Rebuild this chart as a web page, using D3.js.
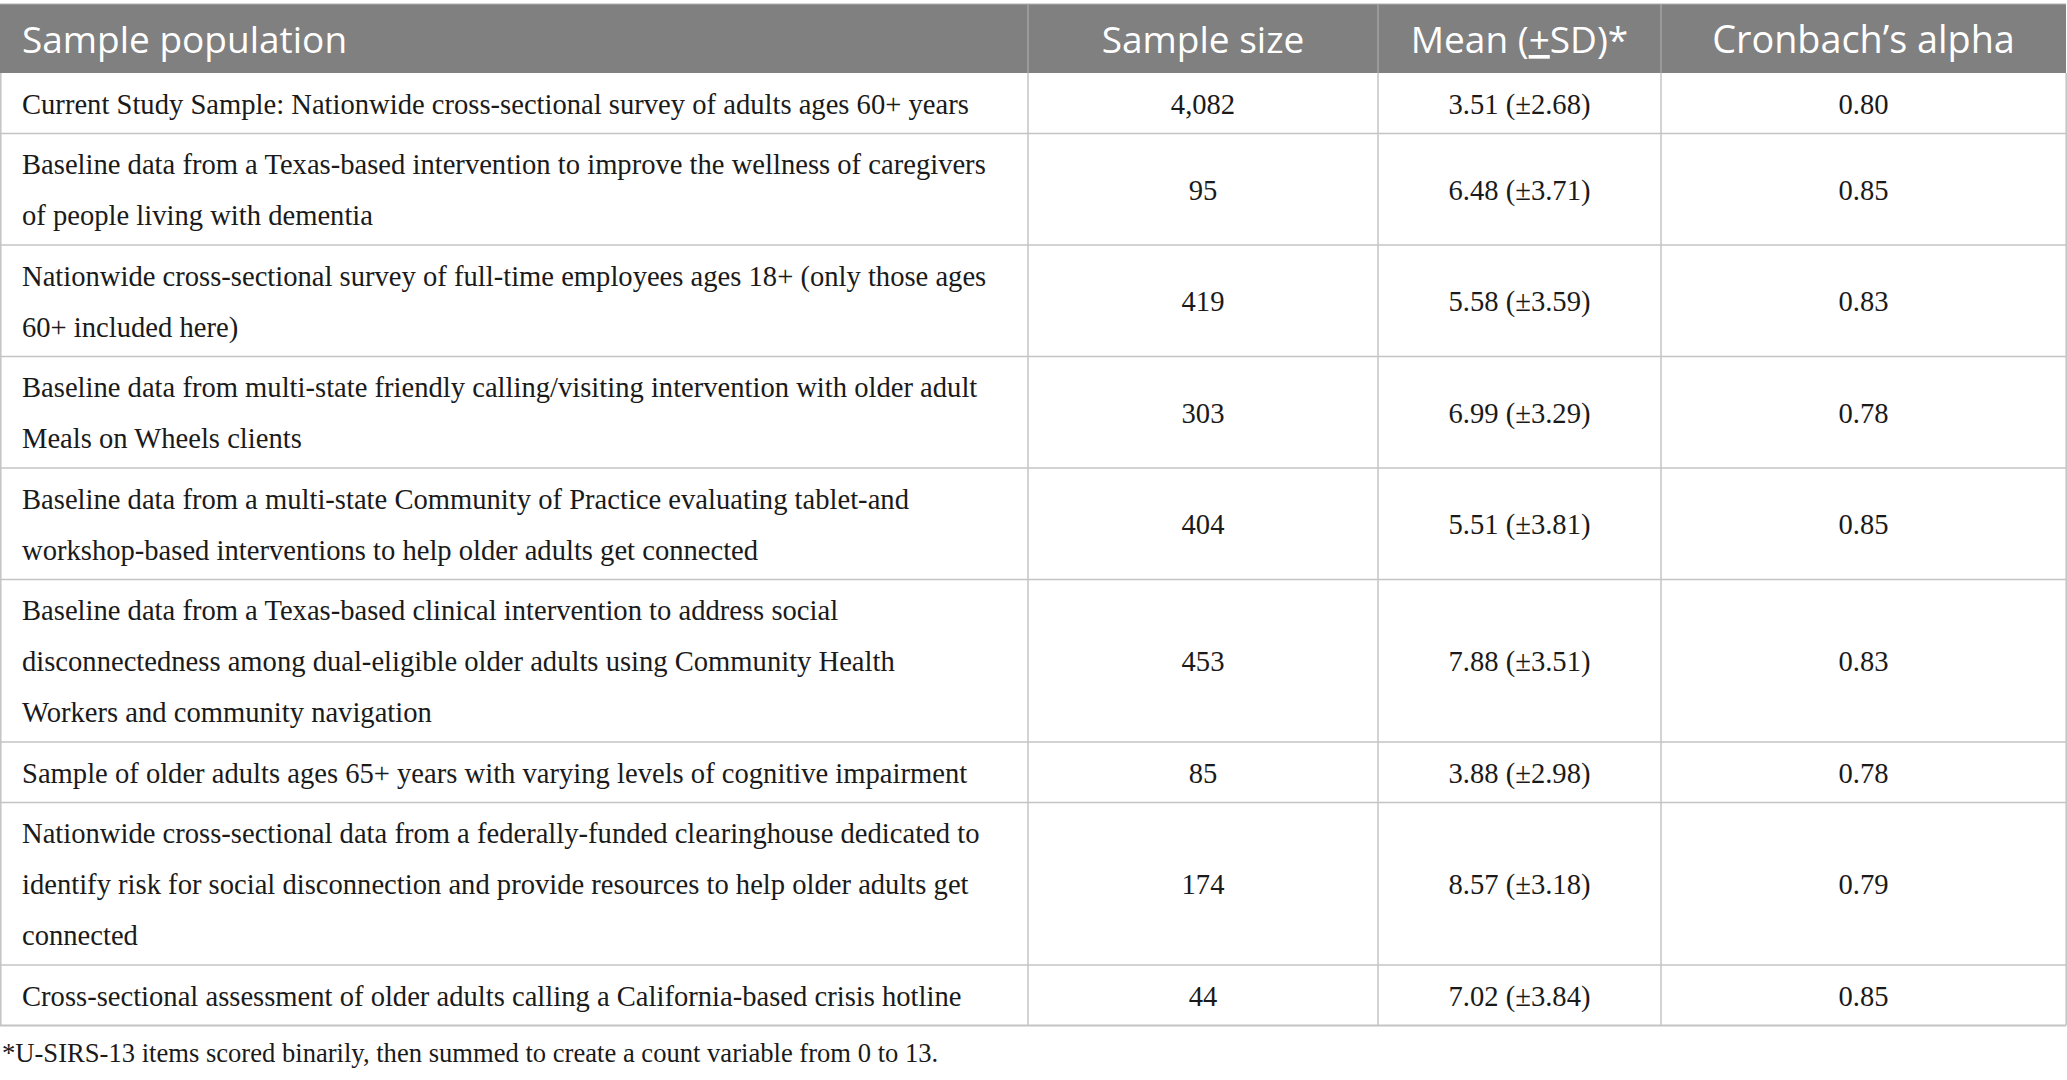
<!DOCTYPE html>
<html>
<head>
<meta charset="utf-8">
<script src="https://cdn.jsdelivr.net/npm/d3@7/dist/d3.min.js"></script>
<style>
  html, body { margin: 0; padding: 0; background: #fff; }
  svg { display: block; }
</style>
</head>
<body>
<div id="chart"></div>
<script>
// ---------------- DATA ----------------
const headers = ["Sample population", "Sample size", "Mean (±SD)*", "Cronbach\u2019s alpha"];

const populations = [
  ["Current Study Sample: Nationwide cross-sectional survey of adults ages 60+ years"],
  ["Baseline data from a Texas-based intervention to improve the wellness of caregivers",
   "of people living with dementia"],
  ["Nationwide cross-sectional survey of full-time employees ages 18+ (only those ages",
   "60+ included here)"],
  ["Baseline data from multi-state friendly calling/visiting intervention with older adult",
   "Meals on Wheels clients"],
  ["Baseline data from a multi-state Community of Practice evaluating tablet-and",
   "workshop-based interventions to help older adults get connected"],
  ["Baseline data from a Texas-based clinical intervention to address social",
   "disconnectedness among dual-eligible older adults using Community Health",
   "Workers and community navigation"],
  ["Sample of older adults ages 65+ years with varying levels of cognitive impairment"],
  ["Nationwide cross-sectional data from a federally-funded clearinghouse dedicated to",
   "identify risk for social disconnection and provide resources to help older adults get",
   "connected"],
  ["Cross-sectional assessment of older adults calling a California-based crisis hotline"]
];

const sampleSizes = ["4,082", "95", "419", "303", "404", "453", "85", "174", "44"];
const means       = [3.51, 6.48, 5.58, 6.99, 5.51, 7.88, 3.88, 8.57, 7.02];
const sds         = [2.68, 3.71, 3.59, 3.29, 3.81, 3.51, 2.98, 3.18, 3.84];
const alphas      = [0.80, 0.85, 0.83, 0.78, 0.85, 0.83, 0.78, 0.79, 0.85];

const footnote = "*U-SIRS-13 items scored binarily, then summed to create a count variable from 0 to 13.";

// ---------------- LAYOUT ----------------
const W = 2067, H = 1080;
const colEdges = [0, 1028, 1378, 1661, 2066];
const headTop = 4, headBottom = 73;
const lineH = 51, pad = 9.5, baseShift = 10.4;
const bodyFont = "'Liberation Serif', 'Times New Roman', serif";
const headFont = "'Open Sans', 'Noto Sans', sans-serif";
const gridColor = "#c4c4c4";

const rows = populations.map((lines, i) => ({
  lines,
  n: sampleSizes[i],
  mean: d3.format(".2f")(means[i]) + " (\u00B1" + d3.format(".2f")(sds[i]) + ")",
  alpha: d3.format(".2f")(alphas[i])
}));

// cumulative row positions
let acc = headBottom;
rows.forEach(r => { r.top = acc; r.h = pad + lineH * r.lines.length; acc += r.h; r.bottom = acc; });
const tableBottom = acc;

const x = d3.scaleOrdinal().domain([0,1,2,3,4]).range(colEdges);
const colCenter = c => (x(c) + x(c + 1)) / 2;

const svg = d3.select("#chart").append("svg")
  .attr("width", W).attr("height", H)
  .attr("viewBox", `0 0 ${W} ${H}`);

// header background
svg.append("rect")
  .attr("x", x(0)).attr("y", headTop)
  .attr("width", x(4) - x(0)).attr("height", headBottom - headTop)
  .attr("fill", "#808080");
svg.append("line")
  .attr("x1", x(0)).attr("x2", x(4)).attr("y1", headTop).attr("y2", headTop)
  .attr("stroke", "#b0b0b0").attr("stroke-width", 1.2);

// header separators
svg.selectAll("line.hsep").data([1,2,3]).join("line")
  .attr("class", "hsep")
  .attr("x1", d => x(d)).attr("x2", d => x(d))
  .attr("y1", headTop).attr("y2", headBottom)
  .attr("stroke", "#a3a3a3").attr("stroke-width", 1.5);

// header texts
const headG = svg.append("g")
  .attr("font-family", headFont).attr("font-size", 37).attr("fill", "#fff");
headG.append("text").attr("x", 22).attr("y", 53).text(headers[0]);
headG.append("text").attr("x", colCenter(1)).attr("y", 53).attr("text-anchor", "middle").text(headers[1]);
const mt = headG.append("text").attr("x", colCenter(2)).attr("y", 53).attr("text-anchor", "middle");
mt.append("tspan").text("Mean (");
mt.append("tspan").attr("text-decoration", "underline").text("+");
mt.append("tspan").text("SD)*");
headG.append("text").attr("x", colCenter(3)).attr("y", 53).attr("text-anchor", "middle")
  .attr("font-size", 37.8).text(headers[3]);

// body grid: horizontal lines
svg.selectAll("line.rowline").data(rows).join("line")
  .attr("class", "rowline")
  .attr("x1", x(0)).attr("x2", x(4))
  .attr("y1", d => d.bottom).attr("y2", d => d.bottom)
  .attr("stroke", gridColor).attr("stroke-width", (d, i) => i === rows.length - 1 ? 2.2 : 1.6);

// vertical lines in body
svg.selectAll("line.vline").data([0,1,2,3,4]).join("line")
  .attr("class", "vline")
  .attr("x1", d => d === 0 ? 0.8 : (d === 4 ? 2066.2 : x(d)))
  .attr("x2", d => d === 0 ? 0.8 : (d === 4 ? 2066.2 : x(d)))
  .attr("y1", headBottom).attr("y2", tableBottom)
  .attr("stroke", gridColor).attr("stroke-width", 1.5);

// body texts
const bodyG = svg.append("g")
  .attr("font-family", bodyFont).attr("font-size", 28.6).attr("fill", "#1a1a1a");

const rg = bodyG.selectAll("g.row").data(rows).join("g").attr("class", "row");

rg.each(function(r) {
  const g = d3.select(this);
  g.selectAll("text.pop").data(r.lines).join("text")
    .attr("class", "pop")
    .attr("x", 22)
    .attr("y", (l, i) => r.top + pad / 2 + lineH * (i + 0.5) + baseShift)
    .text(l => l);
  const cy = r.top + r.h / 2 + baseShift;
  [r.n, r.mean, r.alpha].forEach((v, k) => {
    g.append("text")
      .attr("x", colCenter(k + 1)).attr("y", cy)
      .attr("text-anchor", "middle")
      .text(v);
  });
});

// footnote
svg.append("text")
  .attr("x", 2).attr("y", 1062)
  .attr("font-family", bodyFont).attr("font-size", 26.6).attr("fill", "#1a1a1a")
  .text(footnote);
</script>
</body>
</html>
